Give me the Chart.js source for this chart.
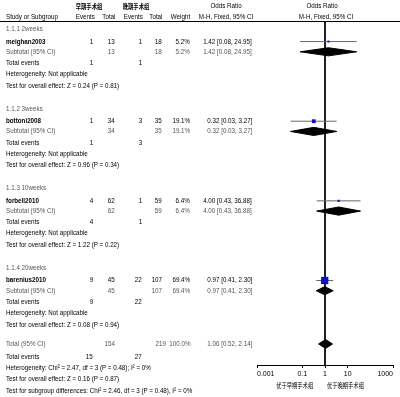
<!DOCTYPE html>
<html>
<head>
<meta charset="utf-8">
<script src="https://cdn.jsdelivr.net/npm/chart.js@4"></script>
<style>
html, body { margin: 0; padding: 0; background: #fff; }
#wrap { position: relative; width: 400px; height: 397px; overflow: hidden; }
#c { position: absolute; left: 0; top: 0; }
.t { position: absolute; white-space: nowrap; font-family: "Liberation Sans", Arial, sans-serif;
     font-size: 7.8px; line-height: 1; color: #000; }
.l { transform-origin: left center; transform: translateY(-50%) scaleX(0.8); }
.r { transform-origin: right center; transform: translateY(-50%) scaleX(0.8); }
.c { transform: translate(-50%, -50%) scaleX(0.8); }
.g { color: #555; }
.b { font-weight: bold; }
.cjk { font-family: "Noto Sans CJK SC", sans-serif; font-size: 6.6px; }
#hline { position: absolute; left: 0; top: 21px; width: 400px; height: 1px; background: #000; }
</style>
</head>
<body>
<div id="wrap">
  <canvas id="c" width="400" height="397"></canvas>
  <div id="hline"></div>
</div>
<script>
// data
var groupNames = ["1.1.1 2weeks", "1.1.2 3weeks", "1.1.3 10weeks", "1.1.4 20weeks"];
var studies = ["meighan2003", "bottoni2008", "forbell2010", "barenius2010"];
var earlyEvents = [1, 1, 4, 9];
var earlyTotal = [13, 34, 62, 45];
var lateEvents = [1, 3, 1, 22];
var lateTotal = [18, 35, 59, 107];
var weights = [5.2, 19.1, 6.4, 69.4];
var oddsRatio = [1.42, 0.32, 4.00, 0.97];
var ciLow = [0.08, 0.03, 0.43, 0.41];
var ciHigh = [24.95, 3.27, 36.88, 2.30];
var groupZ = ["Z = 0.24 (P = 0.81)", "Z = 0.96 (P = 0.34)", "Z = 1.22 (P = 0.22)", "Z = 0.08 (P = 0.94)"];
var pooledOR = [1.06, 0.52, 2.14];   // estimate, low, high
var pooledTotals = [154, 219];
var pooledEvents = [15, 27];
var totalLines = [
  "Heterogeneity: Chi\u00b2 = 2.47, df = 3 (P = 0.48); I\u00b2 = 0%",
  "Test for overall effect: Z = 0.16 (P = 0.87)",
  "Test for subgroup differences: Chi\u00b2 = 2.46, df = 3 (P = 0.48), I\u00b2 = 0%"
];
var armNames = ["早期手术组", "晚期手术组"];
var favourLabels = ["优于早期手术组", "优于晚期手术组"];
var xTicks = [0.001, 0.1, 1, 10, 1000];

// row layout (units of 11px)
var ROW = 11;
var YMAX = 344 / ROW;
var OFF = { head: 0, study: 1.14, sub: 2.07, ev: 3.1, het: 4.1, test: 5.16 };
function rowOf(g, k) { return 0.73 + g * 7.24 + OFF[k]; }
var TOT = 29.36;
var TOFF = [0, 1.18, 2.18, 3.18, 4.27];

function fmt(v) { return v.toFixed(2); }
function ciText(o, lo, hi) { return fmt(o) + " [" + fmt(lo) + ", " + fmt(hi) + "]"; }

function diamond(o, lo, hi, y, h) {
  return [{x: lo, y: y}, {x: o, y: y - h}, {x: hi, y: y}, {x: o, y: y + h}, {x: lo, y: y}];
}

var datasets = [];
datasets.push({
  data: studies.map(function (s, i) { return {x: oddsRatio[i], y: rowOf(i, "study")}; }),
  pointStyle: "rect",
  pointRadius: weights.map(function (w) { return Math.sqrt(w) * 0.62; }),
  backgroundColor: "#1010cc", borderWidth: 0, order: 0
});
studies.forEach(function (s, i) {
  datasets.push({
    data: diamond(oddsRatio[i], ciLow[i], ciHigh[i], rowOf(i, "sub"), 0.37),
    showLine: true, fill: "shape", tension: 0, pointRadius: 0,
    backgroundColor: "#000", borderColor: "#000", borderWidth: 1, order: 1
  });
  datasets.push({
    data: [{x: ciLow[i], y: rowOf(i, "study")}, {x: ciHigh[i], y: rowOf(i, "study")}],
    showLine: true, pointRadius: 0, borderColor: "#666", borderWidth: 1, order: 2
  });
});
datasets.push({
  data: diamond(pooledOR[0], pooledOR[1], pooledOR[2], TOT, 0.41),
  showLine: true, fill: "shape", tension: 0, pointRadius: 0,
  backgroundColor: "#000", borderColor: "#000", borderWidth: 1, order: 1
});
datasets.push({
  data: [{x: 1, y: 0}, {x: 1, y: YMAX}],
  showLine: true, pointRadius: 0, borderColor: "#000", borderWidth: 1, order: 3
});

var chart = new Chart(document.getElementById("c"), {
  type: "scatter",
  data: { datasets: datasets },
  options: {
    responsive: false,
    animation: false,
    layout: { padding: { left: 257, right: 7, top: 21, bottom: 16 } },
    plugins: { legend: { display: false }, tooltip: { enabled: false } },
    scales: {
      x: {
        type: "logarithmic", min: 0.001, max: 1000,
        afterBuildTicks: function (s) { s.ticks = xTicks.map(function (v) { return {value: v}; }); },
        afterFit: function (s) { s.paddingLeft = 0; s.paddingRight = 0; s.height = 16; },
        ticks: {
          callback: function (v) { return String(v); },
          font: { size: 7, family: "Liberation Sans" }, color: "#000",
          padding: 2, maxRotation: 0, autoSkip: false, align: "inner"
        },
        grid: { drawOnChartArea: false, drawTicks: true, tickLength: 3, color: "#000" },
        border: { color: "#000" }
      },
      y: { display: false, min: 0, max: YMAX, reverse: true }
    }
  }
});

// table text
var wrap = document.getElementById("wrap");
var ys = chart.scales.y, xs = chart.scales.x;
function put(text, x, row, align, cls) {
  var d = document.createElement("div");
  d.className = "t " + align + (cls ? " " + cls : "");
  d.textContent = text;
  d.style.top = ys.getPixelForValue(row) + "px";
  if (align === "r") d.style.right = (400 - x) + "px";
  else d.style.left = x + "px";
  wrap.appendChild(d);
}
var COL = { name: 6, ev1: 93, tot1: 115, ev2: 142, tot2: 162, wt: 190, or: 252 };
var H1 = -1.36, H2 = -0.36;

put(armNames[0], 89, H1, "c", "cjk b");
put(armNames[1], 136, H1, "c", "cjk b");
put("Odds Ratio", 226, H1, "c");
put("Odds Ratio", xs.getPixelForValue(1) - 3, H1, "c");
put("Study or Subgroup", COL.name, H2, "l");
put("Events", 95, H2, "r");
put("Total", COL.tot1, H2, "r");
put("Events", 143, H2, "r");
put("Total", COL.tot2, H2, "r");
put("Weight", COL.wt, H2, "r");
put("M-H, Fixed, 95% CI", 226, H2, "c");
put("M-H, Fixed, 95% CI", xs.getPixelForValue(1) + 1, H2, "c");

groupNames.forEach(function (g, i) {
  put(g, COL.name, rowOf(i, "head"), "l", "g");
  var r = rowOf(i, "study");
  put(studies[i], COL.name, r, "l", "b");
  put(String(earlyEvents[i]), COL.ev1, r, "r");
  put(String(earlyTotal[i]), COL.tot1, r, "r");
  put(String(lateEvents[i]), COL.ev2, r, "r");
  put(String(lateTotal[i]), COL.tot2, r, "r");
  put(weights[i].toFixed(1) + "%", COL.wt, r, "r");
  put(ciText(oddsRatio[i], ciLow[i], ciHigh[i]), COL.or, r, "r");
  r = rowOf(i, "sub");
  put("Subtotal (95% CI)", COL.name, r, "l", "g");
  put(String(earlyTotal[i]), COL.tot1, r, "r", "g");
  put(String(lateTotal[i]), COL.tot2, r, "r", "g");
  put(weights[i].toFixed(1) + "%", COL.wt, r, "r", "g");
  put(ciText(oddsRatio[i], ciLow[i], ciHigh[i]), COL.or, r, "r", "g");
  r = rowOf(i, "ev");
  put("Total events", COL.name, r, "l");
  put(String(earlyEvents[i]), COL.ev1, r, "r");
  put(String(lateEvents[i]), COL.ev2, r, "r");
  put("Heterogeneity: Not applicable", COL.name, rowOf(i, "het"), "l");
  put("Test for overall effect: " + groupZ[i], COL.name, rowOf(i, "test"), "l");
});

put("Total (95% CI)", COL.name, TOT + TOFF[0], "l", "g");
put(String(pooledTotals[0]), COL.tot1, TOT + TOFF[0], "r", "g");
put(String(pooledTotals[1]), 166, TOT + TOFF[0], "r", "g");
put("100.0%", COL.wt, TOT + TOFF[0], "r", "g");
put(ciText(pooledOR[0], pooledOR[1], pooledOR[2]), COL.or, TOT + TOFF[0], "r", "g");
put("Total events", COL.name, TOT + TOFF[1], "l");
put(String(pooledEvents[0]), COL.ev1, TOT + TOFF[1], "r");
put(String(pooledEvents[1]), COL.ev2, TOT + TOFF[1], "r");
totalLines.forEach(function (t, i) { put(t, COL.name, TOT + TOFF[2 + i], "l"); });

var mid = xs.getPixelForValue(1);
put(favourLabels[0], mid - 12, 33.1, "r", "cjk");
put(favourLabels[1], mid + 2, 33.1, "l", "cjk");
</script>
</body>
</html>
